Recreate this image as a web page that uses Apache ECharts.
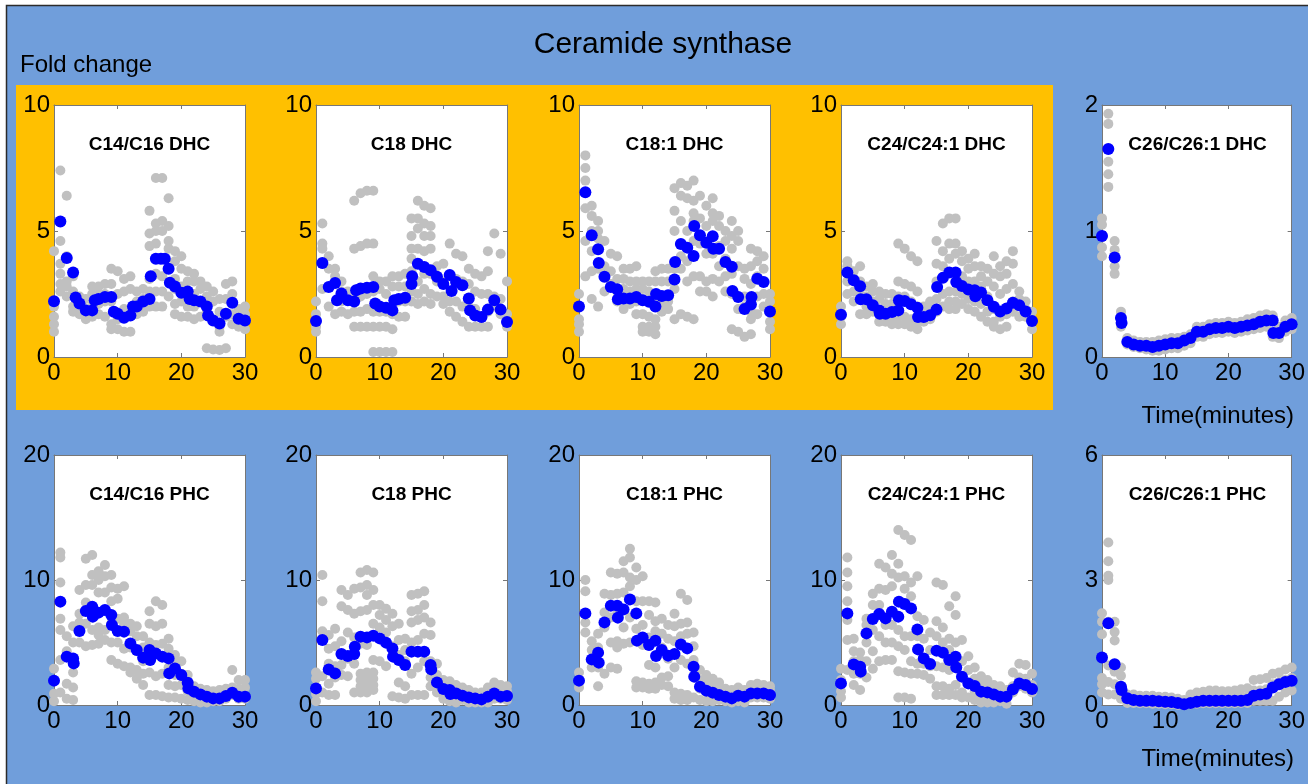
<!DOCTYPE html>
<html>
<head>
<meta charset="utf-8">
<title>Ceramide synthase</title>
<script src="https://cdn.jsdelivr.net/npm/echarts@6/dist/echarts.min.js"></script>
<style>
  html, body { margin: 0; padding: 0; background: #ffffff; }
  #chart { width: 1308px; height: 784px; }
</style>
</head>
<body>
<div id="chart"></div>
<script>
// Time axis (minutes) and tick labels
const timeTicks = [0, 10, 20, 30];
const dhcTicks = [0, 5, 10];
const dhcC26Ticks = [0, 1, 2];
const phcTicks = [0, 10, 20];
const phcC26Ticks = [0, 3, 6];

const panelTitles = [
  'C14/C16 DHC', 'C18 DHC', 'C18:1 DHC', 'C24/C24:1 DHC', 'C26/C26:1 DHC',
  'C14/C16 PHC', 'C18 PHC', 'C18:1 PHC', 'C24/C24:1 PHC', 'C26/C26:1 PHC'
];

// ---- Mean fold change: [time, value] ----
const dhcC14Mean = [[0,2.21],[1,5.38],[2,3.93],[3,3.35],[3.4,2.36],[4,2.12],[5,1.85],[6,1.85],[6.4,2.25],[7,2.3],[8,2.38],[9,2.38],[9.4,1.8],[10,1.72],[11,1.56],[12,1.65],[12.4,2.0],[13,2.0],[14,2.2],[15,2.3],[15.2,3.2],[16,3.9],[16.8,3.9],[17.4,3.9],[18,3.5],[18.2,2.95],[19,2.8],[20,2.55],[21,2.6],[21.3,2.3],[22,2.25],[23,2.2],[24,2.0],[24.2,1.65],[25,1.45],[26,1.33],[27,1.72],[28,2.15],[29,1.52],[30,1.45]];
const dhcC18Mean = [[0,1.43],[1,3.73],[2,2.78],[3,2.94],[3.3,2.25],[4,2.52],[5,2.25],[6,2.2],[6.3,2.65],[7,2.72],[8,2.75],[9,2.78],[9.3,2.12],[10,2.0],[11,1.95],[12,1.85],[12.3,2.25],[13,2.3],[14,2.35],[15,2.9],[15.1,3.2],[16,3.7],[17,3.57],[18,3.44],[19,3.18],[20,2.9],[21,3.25],[21.3,2.62],[22,2.98],[23,2.85],[24,2.32],[24.2,1.85],[25,1.65],[26,1.59],[27,1.88],[28,2.25],[29,1.88],[30,1.39]];
const dhcC181Mean = [[0,2.0],[1,6.54],[2,4.83],[3,4.28],[3.1,3.73],[4,3.18],[5,2.78],[6,2.69],[6.1,2.29],[7,2.32],[8,2.32],[9,2.38],[10,2.25],[11,2.19],[12,2.0],[12.1,2.5],[13,2.42],[14,2.45],[15,3.08],[15.1,3.77],[16,4.48],[17,4.34],[18,4.01],[18.1,5.2],[19,4.83],[20,4.53],[21,4.79],[21.1,4.3],[22,4.3],[23,3.77],[24,3.58],[24.1,2.62],[25,2.38],[26,1.9],[27,2.08],[27.1,2.38],[28,3.11],[29,2.98],[30,1.81]];
const dhcC24Mean = [[0,1.68],[1,3.35],[2,3.05],[3,2.81],[3.1,2.29],[4,2.29],[5,2.05],[6,1.85],[6.1,1.72],[7,1.72],[8,1.79],[9,1.85],[9.1,2.25],[10,2.22],[11,2.09],[12,1.95],[12.1,1.59],[13,1.59],[14,1.66],[15,1.88],[15.1,2.78],[16,3.14],[17,3.35],[18,3.35],[18.1,2.98],[19,2.82],[20,2.68],[21,2.65],[21.1,2.41],[22,2.56],[23,2.25],[24,1.99],[25,1.81],[26,1.92],[27,2.15],[28,2.05],[29,1.81],[30,1.43]];
const dhcC26Mean = [[0,0.96],[1,1.65],[2,0.79],[3,0.31],[3.1,0.27],[4,0.12],[5,0.1],[6,0.09],[7,0.09],[8,0.08],[9,0.09],[10,0.1],[11,0.11],[12,0.11],[13,0.13],[14,0.15],[15,0.2],[16,0.2],[17,0.22],[18,0.23],[19,0.23],[20,0.24],[21,0.23],[22,0.24],[23,0.25],[24,0.26],[25,0.28],[26,0.29],[27,0.29],[27.1,0.19],[28,0.19],[29,0.24],[30,0.26]];
const phcC14Mean = [[0,1.95],[1,8.27],[2,3.87],[3,3.73],[3.1,3.33],[4,5.92],[5,7.52],[6,7.87],[6.1,7.07],[7,7.39],[8,7.6],[9,7.2],[9.1,6.4],[10,5.92],[11,5.87],[12,4.93],[13,4.4],[14,3.79],[15,4.4],[15.1,3.6],[16,4.13],[17,3.87],[18,3.73],[18.1,2.53],[19,2.93],[20,2.4],[21,1.79],[21.1,1.33],[22,1.07],[23,0.85],[24,0.67],[25,0.53],[26,0.53],[27,0.72],[28,0.99],[29,0.67],[30,0.67]];
const phcC18Mean = [[0,1.33],[1,5.2],[2,2.85],[3,2.53],[4,4.08],[5,3.92],[6,4.08],[6.1,4.67],[7,5.47],[8,5.41],[9,5.55],[10,5.33],[11,4.99],[12,4.53],[12.1,3.87],[13,3.6],[14,3.2],[15,4.27],[16,4.27],[17,4.27],[18,3.2],[18.1,2.85],[19,1.81],[20,1.28],[21,1.2],[21.1,0.88],[22,0.93],[23,0.75],[24,0.61],[25,0.53],[26,0.45],[27,0.67],[28,0.93],[29,0.67],[30,0.72]];
const phcC181Mean = [[0,1.95],[1,7.33],[2,3.65],[3,4.19],[3.1,3.39],[4,6.61],[5,7.95],[6,7.95],[6.1,6.99],[7,7.65],[8,8.45],[9,7.33],[9.1,5.15],[10,5.41],[11,4.8],[12,5.15],[12.1,3.92],[13,4.4],[14,3.95],[15,4.08],[16,4.85],[17,4.53],[18,3.07],[18.1,2.27],[19,1.47],[20,1.15],[21,0.99],[22,0.8],[23,0.67],[24,0.53],[25,0.75],[26,0.67],[27,0.93],[28,0.93],[29,0.93],[30,0.8]];
const phcC24Mean = [[0,1.73],[1,7.33],[2,3.25],[3,3.07],[3.1,2.67],[4,5.73],[5,6.88],[6,7.28],[7,6.93],[8,7.47],[9,7.07],[9.1,8.27],[10,8.08],[11,7.73],[12,6.05],[12.1,4.45],[13,3.73],[14,3.28],[15,4.35],[16,4.19],[17,3.6],[18,3.87],[18.1,3.01],[19,2.27],[20,1.73],[21,1.52],[22,1.07],[23,1.01],[24,0.85],[25,0.67],[26,0.67],[27,1.25],[28,1.73],[29,1.6],[30,1.28]];
const phcC26Mean = [[0,1.14],[1,1.96],[2,0.98],[3,0.44],[3.1,0.36],[4,0.16],[5,0.12],[6,0.1],[7,0.1],[8,0.1],[9,0.09],[10,0.08],[11,0.07],[12,0.05],[13,0.02],[14,0.05],[15,0.08],[16,0.1],[17,0.1],[18,0.1],[19,0.1],[20,0.1],[21,0.1],[22,0.1],[23,0.12],[24,0.22],[25,0.25],[26,0.27],[27,0.42],[28,0.5],[29,0.55],[30,0.58]];

// ---- Individual replicates, one list per minute (t = 0 ... 30) ----
const dhcC14Reps = [[1.0,1.3,1.6,2.0,4.2],[7.4,4.6,3.7,3.3,2.9,2.6],[6.4,4.0,3.0,2.8,2.4],[3.2,2.6,2.0,1.8],[2.4,2.0,1.7],[2.3,1.9,1.5],[2.8,2.5,2.0,1.6],[2.8,2.5,2.1,1.7],[2.9,2.5,2.2,1.6],[3.5,2.9,2.2,1.3,1.1],[3.4,2.5,1.5,1.1],[3.1,2.6,1.9,1.0],[3.2,2.7,1.7,1.0],[2.6,2.2,1.7],[2.7,2.3,1.8],[5.8,4.9,4.4,3.1,2.6,2.0],[7.1,5.3,5.0,4.5,3.3,2.6,2.0],[7.1,5.4,5.0,3.2,2.6,2.0],[6.3,5.2,4.6,4.3,3.5,2.4],[4.2,3.8,3.1,2.7,2.1,1.7],[4.0,3.5,2.8,2.2,1.6],[3.4,3.0,2.6,2.0,1.6],[3.3,3.0,2.5,2.0,1.5],[3.0,2.7,2.2,1.6],[2.8,2.4,1.8,0.35],[2.6,2.2,1.5,0.3],[2.3,1.8,1.2,1.0,0.28],[2.9,2.3,1.6,0.35],[3.0,2.5,1.7,1.3],[1.9,1.6,1.2],[2.0,1.7,1.5,1.1]];
const dhcC18Reps = [[1.0,1.2,1.7,2.2],[5.3,4.5,4.3,3.7,2.7],[4.0,3.5,2.0],[3.5,3.2,1.7],[3.0,2.6,2.2,1.8],[2.6,2.3,1.7],[6.2,4.3,2.3,1.8,1.2],[6.5,4.4,2.4,1.8,1.2],[6.6,4.5,2.5,1.9,1.2],[6.6,4.5,3.2,2.6,1.8,1.2,0.2],[3.0,2.7,1.8,1.2,0.2],[3.0,2.5,1.8,1.2,0.2],[3.2,2.8,1.7,1.1,0.2],[3.2,2.8,2.2,1.6],[3.3,2.8,2.2,1.6],[5.5,4.8,4.3,3.9,3.4,2.6,2.2],[6.2,5.5,5.1,4.3,3.0,2.5,2.1],[6.0,5.3,4.8,4.2,3.3,2.7,2.2],[5.9,5.2,4.8,4.3,3.3,2.5,2.1],[3.6,3.0,2.4],[3.7,3.0,2.4,2.1],[4.5,3.2,2.2,1.8],[4.1,3.1,2.2,1.6],[4.0,3.0,2.0,1.4],[3.5,2.9,2.0,1.2],[3.3,2.6,1.9,1.2],[3.2,2.5,1.6,1.2],[4.2,3.4,2.5,1.8,1.2],[4.9,2.4,2.0],[4.1,2.3,1.7],[3.0,1.7,1.2]];
const dhcC181Reps = [[2.5,2.0,1.5,1.3,1.0],[8.0,7.5,7.0,5.9,4.6,3.2],[6.0,5.6,5.0,4.2,3.4,2.3],[5.4,5.0,4.7,3.5,2.0],[4.6,3.6,3.2,2.6],[4.1,3.4,2.9],[4.0,3.1,2.6,2.2],[3.5,3.1,2.7,2.2,1.9],[3.5,3.0,2.6,2.1],[3.6,3.0,2.7,2.2,1.7],[3.0,2.7,2.3,1.7,1.2,1.0],[3.0,2.6,2.2,1.6,1.2,1.0],[3.4,3.0,2.4,1.5,1.2,0.9],[3.5,3.0,2.1,1.8],[3.5,3.0,2.2,1.9],[6.7,5.8,5.0,3.5,2.7,1.5],[6.9,6.4,5.4,4.0,3.5,1.7],[6.8,6.3,5.0,3.8,3.0,1.6],[7.0,6.2,5.7,5.4,4.6,3.2,1.5],[6.4,5.5,4.5,3.2,2.6],[6.0,5.2,4.1,3.0,2.6],[6.3,5.7,5.4,4.1,3.1,2.4],[5.6,5.2,4.4,3.6,3.0],[5.0,4.6,3.9,3.2,2.6],[5.4,4.8,4.3,3.3,2.5,1.1],[5.0,4.6,3.6,2.4,1.9,1.0],[3.5,3.1,2.4,2.0,0.8],[4.3,3.6,2.9,1.8,1.5,0.9],[4.2,3.8,3.2,2.4,1.7],[4.0,3.5,2.5,2.0],[2.5,2.2,1.8,1.4,1.1]];
const dhcC24Reps = [[2.0,1.6,1.3],[3.8,3.6,3.0,2.5],[3.4,3.1,2.6,2.2],[3.6,3.0,2.5,1.7],[2.8,2.4,2.0,1.7],[2.9,2.6,2.2,1.8],[2.6,2.3,1.8,1.4],[2.5,2.1,1.7,1.4],[2.5,2.1,1.6,1.3],[4.5,3.0,2.4,1.6,1.3],[4.3,2.9,2.4,1.6,1.3],[4.0,2.8,2.2,1.5,1.2],[3.8,2.6,2.0,1.4,1.1],[2.0,1.8,1.4],[2.2,1.9,1.5],[4.6,3.7,3.0,2.3,1.8],[5.3,4.2,3.6,2.5,2.0],[5.5,4.5,3.9,2.6,2.2,1.9],[5.5,4.5,4.1,2.6,2.2,1.9],[4.2,3.8,3.2,2.5,2.1],[3.9,3.5,3.0,2.3,1.9],[4.1,3.6,3.0,2.2,1.8],[3.6,3.2,2.8,2.1,1.6],[3.5,3.0,2.4,1.8,1.4],[4.0,3.3,2.8,1.9,1.4,1.2],[3.6,3.2,2.5,1.6,1.1],[3.8,3.3,2.7,1.7,1.2],[4.2,3.7,2.9,2.2,1.8],[2.6,2.3,2.0,1.6],[2.2,1.9,1.6],[1.8,1.5,1.1]];
const dhcC26Reps = [[1.1,1.05,0.95,0.87,0.8],[1.93,1.85,1.55,1.45,1.35],[0.92,0.85,0.72,0.66],[0.36,0.3,0.24],[0.15,0.1],[0.13,0.08],[0.12,0.07],[0.12,0.06],[0.12,0.05],[0.13,0.05],[0.14,0.06],[0.15,0.07],[0.15,0.07],[0.16,0.09],[0.18,0.11],[0.24,0.16],[0.24,0.16],[0.26,0.18],[0.27,0.19],[0.27,0.19],[0.28,0.2],[0.27,0.19],[0.28,0.2],[0.3,0.21],[0.31,0.22],[0.33,0.23],[0.34,0.24],[0.33,0.16],[0.24,0.15],[0.29,0.2],[0.31,0.22]];
const phcC14Reps = [[2.9,1.9,0.9,0.3],[12.2,11.8,9.8,6.9,6.0,3.6,1.0],[5.5,4.3,1.7,0.5],[6.3,5.0,2.6,1.4,0.4],[9.2,7.3,6.6,6.2,5.0],[11.7,9.6,8.2,6.5,4.7],[12.0,10.4,9.6,7.0,6.0,4.8],[10.7,10.0,9.0,6.2,5.6,4.9],[11.2,10.3,9.0,6.0,5.2],[10.4,9.4,8.3,6.5,5.0,3.6],[9.3,8.5,6.9,5.0,3.3],[9.5,7.0,6.5,4.5,3.1],[6.5,5.9,4.6,3.0,2.6],[6.3,5.5,4.3,2.8,2.1],[5.5,4.6,3.5,2.5,1.6],[7.5,6.5,5.0,2.6,0.8],[8.3,6.3,4.8,2.3,0.8],[8.0,6.5,4.9,2.5,0.7],[5.3,4.5,3.0,1.6,0.6],[4.0,3.3,2.4,1.5,0.6],[3.5,2.5,1.6,0.5],[2.4,1.9,1.1,0.4],[1.5,1.1,0.6,0.3],[1.3,1.0,0.4,0.2],[1.2,0.8,0.3,0.2],[1.1,0.6,0.3],[1.2,0.7,0.3],[1.3,1.0,0.5],[2.8,1.4,0.8],[2.0,1.3,0.5],[2.0,1.4,0.5]];
const phcC18Reps = [[2.6,2.1,0.9,0.3],[10.4,8.3,5.9,2.3,1.0],[5.6,4.5,3.3,1.7,0.8],[6.1,4.7,3.1,2.2,0.8],[9.2,7.9,5.1,3.2,2.4],[8.8,7.6,5.8,3.7,2.3],[9.3,7.3,5.4,3.3,1.0],[10.6,9.4,7.5,4.9,2.5,2.0,1.5,1.0],[10.8,9.6,8.8,7.6,4.8,2.6,2.0,1.5,1.0],[10.6,9.2,8.0,6.5,3.6,2.6,2.1,1.6,1.2],[8.0,7.2,6.2,3.5],[7.7,6.8,5.8,3.1],[7.3,6.3,4.7,0.7],[6.5,5.2,4.0,1.8,0.6],[5.3,4.4,3.5,1.5,0.5],[8.8,7.5,6.6,5.0,2.5,0.8],[8.9,7.6,6.8,5.2,3.0,0.8],[9.1,8.0,7.0,5.7,3.5,0.8],[6.6,5.6,3.5,2.2,1.5],[3.3,2.4,1.3,1.0],[2.0,1.7,0.8,0.5],[1.9,1.5,0.6,0.3],[1.6,1.3,0.4,0.2],[1.4,1.0,0.4],[1.2,0.9,0.2],[1.0,0.7,0.2],[1.0,0.6,0.2],[1.4,0.9,0.2],[1.8,1.3,0.5],[1.6,1.1,0.5],[1.5,1.1,0.4]];
const phcC181Reps = [[2.6,1.4],[10.0,9.1,6.6,5.8],[5.1,4.4,3.0],[5.7,4.6,3.0,1.5],[8.9,7.4,6.2,2.5],[10.6,8.8,7.0,5.0,3.0],[10.5,8.9,7.3,5.1,4.6,2.9],[11.5,10.6,9.0,6.2,4.9],[12.5,11.8,10.2,9.5,7.0,5.0],[11.0,10.0,8.3,6.1,1.9,1.4],[10.3,8.3,6.4,4.8,1.8,1.4],[8.3,7.2,5.4,3.2,1.7,1.3],[8.2,6.7,5.9,3.0,1.8,1.3],[6.9,5.7,4.6,2.2,1.6],[6.4,5.3,3.7,2.3,1.5],[7.3,6.3,5.1,3.0,1.0,0.5],[8.9,6.5,5.5,3.6,0.9,0.4],[8.4,6.6,5.7,3.3,0.8,0.4],[5.8,4.7,3.6,2.2,0.6],[2.8,2.0,1.3,0.4],[2.4,1.8,1.0,0.3],[2.1,1.6,0.7,0.3],[1.8,1.4,0.4],[1.3,0.9,0.3],[1.2,0.8,0.2],[1.4,1.0,0.3],[1.2,0.9,0.2],[1.6,1.3,0.6],[1.7,1.3,0.6],[1.6,1.2,0.6],[1.5,1.2,0.5]];
const phcC24Reps = [[2.9,2.0,1.1,0.6],[11.8,10.6,9.5,8.3,6.8,5.2,2.8],[5.3,4.3,3.5,2.5,1.6],[4.2,3.6,2.5,1.2],[6.9,6.4,5.0,3.5,2.2],[8.9,8.0,6.0,4.3,2.9],[11.3,9.3,8.0,5.5,3.5],[11.0,9.2,6.4,5.0,3.6],[12.0,10.5,9.5,6.4,5.0,3.6],[14.0,11.3,10.2,6.0,4.7,2.7,0.6],[13.6,10.3,9.3,5.5,4.4,2.6,0.6],[13.2,9.8,8.7,5.5,3.5,2.5,0.5],[10.3,7.1,5.5,3.3,2.5],[6.8,5.3,3.3,2.4],[5.8,4.4,3.1,2.1],[9.8,6.7,5.5,3.1,1.5,0.8],[9.6,6.2,5.0,3.0,1.5,0.8],[7.9,5.3,4.4,2.8,1.3,0.8],[8.7,7.2,5.0,3.3,1.6,0.8],[5.2,3.5,2.2,1.0,0.6],[3.9,2.8,1.8,0.6],[3.0,2.1,1.1,0.4],[2.3,1.7,0.9,0.2],[2.0,1.5,0.6,0.2],[1.6,1.3,0.6,0.2],[1.5,1.2,0.3],[1.2,0.8,0.1],[2.6,1.5,1.0],[3.3,2.2,1.5],[3.2,2.1,1.3],[2.5,1.6,1.0]];
const phcC26Reps = [[2.2,2.0,1.7,0.65,0.5,0.3],[3.9,3.45,3.1,3.0,2.0,0.95,0.55,0.25],[2.0,1.75,1.55,0.8,0.5,0.25],[0.9,0.7,0.3,0.15],[0.25,0.15,0.05],[0.25,0.15,0.05],[0.22,0.12,0.04],[0.22,0.12,0.04],[0.22,0.12,0.03],[0.2,0.1,0.03],[0.2,0.1,0.02],[0.18,0.08,0.02],[0.15,0.06,0.0],[0.12,0.04,0.0],[0.25,0.1,0.02],[0.3,0.15,0.03],[0.32,0.16,0.04],[0.35,0.18,0.04],[0.35,0.18,0.04],[0.33,0.17,0.04],[0.33,0.17,0.04],[0.35,0.18,0.04],[0.38,0.2,0.05],[0.4,0.2,0.05],[0.6,0.35,0.1],[0.62,0.35,0.1],[0.65,0.38,0.1],[0.75,0.5,0.1],[0.78,0.55,0.2],[0.85,0.6,0.3],[0.9,0.65,0.35]];

const panels = [
  { mean: dhcC14Mean, reps: dhcC14Reps, ticks: dhcTicks },
  { mean: dhcC18Mean, reps: dhcC18Reps, ticks: dhcTicks },
  { mean: dhcC181Mean, reps: dhcC181Reps, ticks: dhcTicks },
  { mean: dhcC24Mean, reps: dhcC24Reps, ticks: dhcTicks },
  { mean: dhcC26Mean, reps: dhcC26Reps, ticks: dhcC26Ticks },
  { mean: phcC14Mean, reps: phcC14Reps, ticks: phcTicks },
  { mean: phcC18Mean, reps: phcC18Reps, ticks: phcTicks },
  { mean: phcC181Mean, reps: phcC181Reps, ticks: phcTicks },
  { mean: phcC24Mean, reps: phcC24Reps, ticks: phcTicks },
  { mean: phcC26Mean, reps: phcC26Reps, ticks: phcC26Ticks }
];

// ---- Layout ----
const FONT = '"Liberation Sans", Arial, Helvetica, sans-serif';
const colLeft = [54, 316, 579, 841, 1102];
const rowTop = [105, 455];
const rowHeight = [252, 250];
const plotWidth = 191;
const boxColor = '#777777';

const grids = [], xAxes = [], yAxes = [], series = [], texts = [];

panels.forEach((p, i) => {
  const row = Math.floor(i / 5), col = i % 5;
  const left = colLeft[col], top = rowTop[row], height = rowHeight[row];
  grids.push({ left, top, width: plotWidth, height, show: true,
    backgroundColor: '#ffffff', borderWidth: 0, containLabel: false });

  const tickStyle = { show: true, inside: true, length: 4, lineStyle: { color: boxColor, width: 1 } };
  const lineStyle = { show: true, onZero: false, lineStyle: { color: boxColor, width: 1 } };
  const xMin = timeTicks[0], xMax = timeTicks[timeTicks.length - 1];
  const yMin = p.ticks[0], yMax = p.ticks[p.ticks.length - 1];

  xAxes.push({ type: 'value', gridIndex: i, position: 'bottom', min: xMin, max: xMax,
    interval: timeTicks[1] - timeTicks[0], axisLine: lineStyle, axisTick: tickStyle,
    splitLine: { show: false },
    axisLabel: { show: true, color: '#000', fontSize: 24, fontFamily: FONT, margin: 4 } });
  xAxes.push({ type: 'value', gridIndex: i, position: 'top', min: xMin, max: xMax,
    interval: timeTicks[1] - timeTicks[0], axisLine: lineStyle, axisTick: tickStyle,
    splitLine: { show: false }, axisLabel: { show: false } });
  yAxes.push({ type: 'value', gridIndex: i, position: 'left', min: yMin, max: yMax,
    interval: p.ticks[1] - p.ticks[0], axisLine: lineStyle, axisTick: tickStyle,
    splitLine: { show: false },
    axisLabel: { show: true, color: '#000', fontSize: 24, fontFamily: FONT, margin: 4 } });
  yAxes.push({ type: 'value', gridIndex: i, position: 'right', min: yMin, max: yMax,
    interval: p.ticks[1] - p.ticks[0], axisLine: lineStyle, axisTick: tickStyle,
    splitLine: { show: false }, axisLabel: { show: false } });

  const repPoints = [];
  p.reps.forEach((vals, t) => vals.forEach(v => repPoints.push([t, v])));

  series.push({ type: 'scatter', xAxisIndex: 2 * i, yAxisIndex: 2 * i, data: repPoints,
    symbol: 'circle', symbolSize: 10, clip: false, silent: true,
    itemStyle: { color: '#c0c0c0', opacity: 1 } });
  series.push({ type: 'scatter', xAxisIndex: 2 * i, yAxisIndex: 2 * i, data: p.mean,
    symbol: 'circle', symbolSize: 12, clip: false, silent: true,
    itemStyle: { color: '#0000ff', opacity: 1 } });

  texts.push({ type: 'text', z: 50, silent: true,
    style: { text: panelTitles[i], x: left + plotWidth / 2, y: top + 40,
      align: 'center', verticalAlign: 'middle', fill: '#000',
      font: 'bold 19px ' + FONT } });
});

// Axis titles for the right-hand column
texts.push({ type: 'text', z: 50, silent: true,
  style: { text: 'Time(minutes)', x: colLeft[4] + plotWidth + 1, y: 416, align: 'right',
    verticalAlign: 'middle', fill: '#000', font: '24px ' + FONT } });
texts.push({ type: 'text', z: 50, silent: true,
  style: { text: 'Time(minutes)', x: colLeft[4] + plotWidth + 1, y: 759, align: 'right',
    verticalAlign: 'middle', fill: '#000', font: '24px ' + FONT } });
texts.push({ type: 'text', z: 50, silent: true,
  style: { text: 'Fold change', x: 20, y: 65, align: 'left',
    verticalAlign: 'middle', fill: '#000', font: '24px ' + FONT } });
texts.push({ type: 'text', z: 50, silent: true,
  style: { text: 'Ceramide synthase', x: 663, y: 45, align: 'center',
    verticalAlign: 'middle', fill: '#000', font: '30px ' + FONT } });

// Figure background: blue panel with frame, orange band behind the DHC row
const backdrop = [
  { type: 'rect', z: -100, silent: true,
    shape: { x: 6.5, y: 5.5, width: 1320, height: 800 },
    style: { fill: '#709edb', stroke: '#2b2b2b', lineWidth: 1.5 } },
  { type: 'rect', z: -90, silent: true,
    shape: { x: 16, y: 85, width: 1037, height: 325 },
    style: { fill: '#ffc000' } }
];

const chart = echarts.init(document.getElementById('chart'), null, { renderer: 'canvas' });
chart.setOption({
  animation: false,
  backgroundColor: '#ffffff',
  grid: grids,
  xAxis: xAxes,
  yAxis: yAxes,
  series: series,
  graphic: { elements: backdrop.concat(texts) }
});
</script>
</body>
</html>
